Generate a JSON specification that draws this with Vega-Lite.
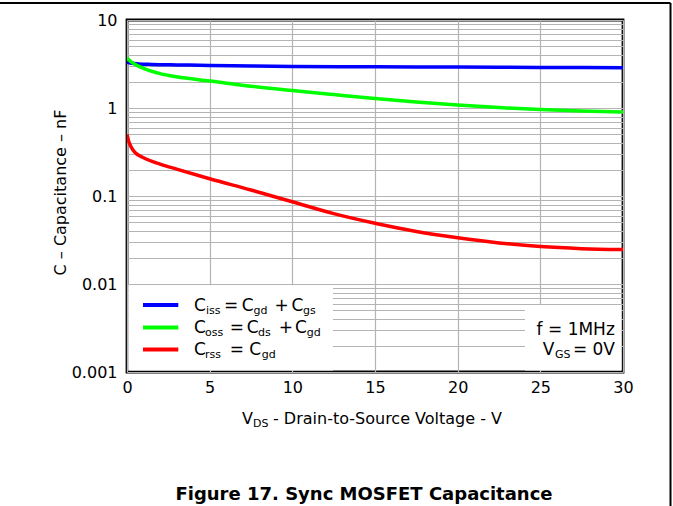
{
  "$schema": "https://vega.github.io/schema/vega-lite/v6.json",
  "width": 496,
  "height": 352,
  "autosize": {"type": "none"},
  "padding": {"left": 127, "top": 20, "right": 50, "bottom": 134},
  "background": "white",
  "config": {
    "view": {"stroke": "black", "strokeWidth": 2.8},
    "font": "DejaVu Sans"
  },
  "datasets": {
    "curves": [
      {"series": "Ciss", "x": 0, "c": 3.32},
      {"series": "Ciss", "x": 0.3, "c": 3.22},
      {"series": "Ciss", "x": 0.7, "c": 3.17},
      {"series": "Ciss", "x": 1.5, "c": 3.13},
      {"series": "Ciss", "x": 3, "c": 3.09},
      {"series": "Ciss", "x": 5, "c": 3.05},
      {"series": "Ciss", "x": 7.5, "c": 3.0},
      {"series": "Ciss", "x": 10, "c": 2.97},
      {"series": "Ciss", "x": 15, "c": 2.94},
      {"series": "Ciss", "x": 20, "c": 2.92},
      {"series": "Ciss", "x": 25, "c": 2.89},
      {"series": "Ciss", "x": 30, "c": 2.87},
      {"series": "Coss", "x": 0, "c": 3.7},
      {"series": "Coss", "x": 0.25, "c": 3.35},
      {"series": "Coss", "x": 0.5, "c": 3.13},
      {"series": "Coss", "x": 1, "c": 2.82},
      {"series": "Coss", "x": 2, "c": 2.46},
      {"series": "Coss", "x": 3, "c": 2.26},
      {"series": "Coss", "x": 5, "c": 2.03},
      {"series": "Coss", "x": 7.5, "c": 1.77},
      {"series": "Coss", "x": 10, "c": 1.58},
      {"series": "Coss", "x": 12.5, "c": 1.42},
      {"series": "Coss", "x": 15, "c": 1.28},
      {"series": "Coss", "x": 17.5, "c": 1.17},
      {"series": "Coss", "x": 20, "c": 1.08},
      {"series": "Coss", "x": 22.5, "c": 1.01},
      {"series": "Coss", "x": 25, "c": 0.96},
      {"series": "Coss", "x": 27.5, "c": 0.925},
      {"series": "Coss", "x": 30, "c": 0.9},
      {"series": "Crss", "x": 0, "c": 0.5},
      {"series": "Crss", "x": 0.1, "c": 0.42},
      {"series": "Crss", "x": 0.25, "c": 0.36},
      {"series": "Crss", "x": 0.5, "c": 0.31},
      {"series": "Crss", "x": 1, "c": 0.272},
      {"series": "Crss", "x": 2, "c": 0.23},
      {"series": "Crss", "x": 3, "c": 0.202},
      {"series": "Crss", "x": 5, "c": 0.157},
      {"series": "Crss", "x": 7.5, "c": 0.117},
      {"series": "Crss", "x": 10, "c": 0.086},
      {"series": "Crss", "x": 12.5, "c": 0.063},
      {"series": "Crss", "x": 15, "c": 0.049},
      {"series": "Crss", "x": 17.5, "c": 0.0395},
      {"series": "Crss", "x": 20, "c": 0.0335},
      {"series": "Crss", "x": 22.5, "c": 0.0293},
      {"series": "Crss", "x": 25, "c": 0.0266},
      {"series": "Crss", "x": 27.5, "c": 0.0252},
      {"series": "Crss", "x": 30, "c": 0.0246}
    ],
    "masks": [
      {"x": 0.09, "x2": 12.46, "y": 0.00104, "y2": 0.0097},
      {"x": 24.07, "x2": 29.91, "y": 0.00104, "y2": 0.00577}
    ],
    "legendLines": [
      {"series": "Ciss", "x": 0.968, "x2": 3.103, "y": 0.005772},
      {"series": "Coss", "x": 0.968, "x2": 3.103, "y": 0.0032034},
      {"series": "Crss", "x": 0.968, "x2": 3.103, "y": 0.0018021}
    ],
    "borderTop": [
      {"x": -7.8, "x2": 32.873, "y": 15.6}
    ],
    "borderRight": [
      {"x": 32.873, "y": 15.6, "y2": 0.00003}
    ],
    "text17": [
      {"x": 4.052, "y": 0.004934, "t": "C"},
      {"x": 5.867, "y": 0.004934, "t": "="},
      {"x": 6.937, "y": 0.004934, "t": "C"},
      {"x": 8.921, "y": 0.004934, "t": "+"},
      {"x": 9.95, "y": 0.004934, "t": "C"},
      {"x": 4.052, "y": 0.002774, "t": "C"},
      {"x": 6.212, "y": 0.002774, "t": "="},
      {"x": 7.24, "y": 0.002774, "t": "C"},
      {"x": 9.175, "y": 0.002774, "t": "+"},
      {"x": 10.161, "y": 0.002774, "t": "C"},
      {"x": 4.052, "y": 0.00156, "t": "C"},
      {"x": 6.212, "y": 0.00156, "t": "="},
      {"x": 7.396, "y": 0.00156, "t": "C"},
      {"x": 24.774, "y": 0.002599, "t": "f = 1MHz"},
      {"x": 25.143, "y": 0.00156, "t": "V"},
      {"x": 26.969, "y": 0.00156, "t": "= 0V"}
    ],
    "text11": [
      {"x": 4.778, "y": 0.004934, "t": "iss"},
      {"x": 7.651, "y": 0.004934, "t": "gd"},
      {"x": 10.645, "y": 0.004934, "t": "gs"},
      {"x": 4.718, "y": 0.002774, "t": "oss"},
      {"x": 7.923, "y": 0.002774, "t": "ds"},
      {"x": 10.869, "y": 0.002774, "t": "gd"},
      {"x": 4.718, "y": 0.00156, "t": "rss"},
      {"x": 8.147, "y": 0.00156, "t": "gd"},
      {"x": 25.887, "y": 0.00156, "t": "GS"},
      {"x": 7.621, "y": 0.00025655, "t": "DS"}
    ],
    "text16": [
      {"x": 6.956, "y": 0.00025655, "t": "V"},
      {"x": 8.831, "y": 0.00025655, "t": "- Drain-to-Source Voltage - V"}
    ],
    "caption": [
      {"x": 14.335, "y": 0.00003511, "t": "Figure 17. Sync MOSFET Capacitance"}
    ]
  },
  "encoding": {
    "x": {
      "field": "x",
      "type": "quantitative",
      "scale": {"domain": [0, 30], "nice": false},
      "axis": {
        "values": [0, 5, 10, 15, 20, 25, 30],
        "title": null,
        "grid": true,
        "gridColor": "#b4b4b4",
        "gridWidth": 1.2,
        "domain": false,
        "ticks": false,
        "labelFont": "DejaVu Sans",
        "labelFontSize": 16,
        "labelColor": "black",
        "labelPadding": 7,
        "labelFlush": false
      }
    },
    "y": {
      "field": "y",
      "type": "quantitative",
      "scale": {"type": "log", "domain": [0.001, 10], "nice": false},
      "axis": {
        "values": [0.001, 0.002, 0.003, 0.004, 0.005, 0.006, 0.007, 0.008, 0.009, 0.01, 0.02, 0.03, 0.04, 0.05, 0.06, 0.07, 0.08, 0.09, 0.1, 0.2, 0.3, 0.4, 0.5, 0.6, 0.7, 0.8, 0.9, 1, 2, 3, 4, 5, 6, 7, 8, 9, 10],
        "labelExpr": "abs(log(datum.value)/LN10 - round(log(datum.value)/LN10)) < 0.001 ? format(datum.value, '~g') : ''",
        "title": "C – Capacitance – nF",
        "titleFont": "DejaVu Sans",
        "titleFontSize": 16,
        "titleFontWeight": "normal",
        "titleColor": "black",
        "titleAngle": 270,
        "titleX": -67,
        "titleY": 172,
        "titleAlign": "center",
        "titleBaseline": "middle",
        "grid": true,
        "gridColor": "#b4b4b4",
        "gridWidth": 1.2,
        "domain": false,
        "ticks": false,
        "labelFont": "DejaVu Sans",
        "labelFontSize": 16,
        "labelColor": "black",
        "labelPadding": 10,
        "labelFlush": false,
        "labelOverlap": false
      }
    }
  },
  "layer": [
    {
      "data": {"name": "masks"},
      "mark": {"type": "rect", "color": "white", "strokeWidth": 0},
      "encoding": {
        "x2": {"field": "x2"},
        "y2": {"field": "y2"}
      }
    },
    {
      "data": {"name": "curves"},
      "mark": {"type": "line", "interpolate": "monotone", "strokeWidth": 3.5, "clip": true},
      "encoding": {
        "y": {"field": "c", "type": "quantitative"},
        "color": {
          "field": "series",
          "type": "nominal",
          "scale": {"domain": ["Ciss", "Coss", "Crss"], "range": ["#0000ff", "#00ff00", "#ff0000"]},
          "legend": null
        }
      }
    },
    {
      "data": {"name": "legendLines"},
      "mark": {"type": "rule", "strokeWidth": 4},
      "encoding": {
        "x2": {"field": "x2"},
        "color": {"field": "series", "type": "nominal", "legend": null}
      }
    },
    {
      "data": {"name": "borderTop"},
      "mark": {"type": "rule", "strokeWidth": 2, "color": "black"},
      "encoding": {
        "x2": {"field": "x2"}
      }
    },
    {
      "data": {"name": "borderRight"},
      "mark": {"type": "rule", "strokeWidth": 2, "color": "black"},
      "encoding": {
        "y2": {"field": "y2"}
      }
    },
    {
      "data": {"name": "text17"},
      "mark": {"type": "text", "align": "left", "baseline": "alphabetic", "font": "DejaVu Sans", "fontSize": 17, "color": "black"},
      "encoding": {"text": {"field": "t"}}
    },
    {
      "data": {"name": "text11"},
      "mark": {"type": "text", "align": "left", "baseline": "alphabetic", "font": "DejaVu Sans", "fontSize": 11, "dy": 3, "color": "black"},
      "encoding": {"text": {"field": "t"}}
    },
    {
      "data": {"name": "text16"},
      "mark": {"type": "text", "align": "left", "baseline": "alphabetic", "font": "DejaVu Sans", "fontSize": 16, "color": "black"},
      "encoding": {"text": {"field": "t"}}
    },
    {
      "data": {"name": "caption"},
      "mark": {"type": "text", "align": "center", "baseline": "alphabetic", "font": "DejaVu Sans", "fontSize": 18, "fontWeight": "bold", "color": "black"},
      "encoding": {"text": {"field": "t"}}
    }
  ]
}
